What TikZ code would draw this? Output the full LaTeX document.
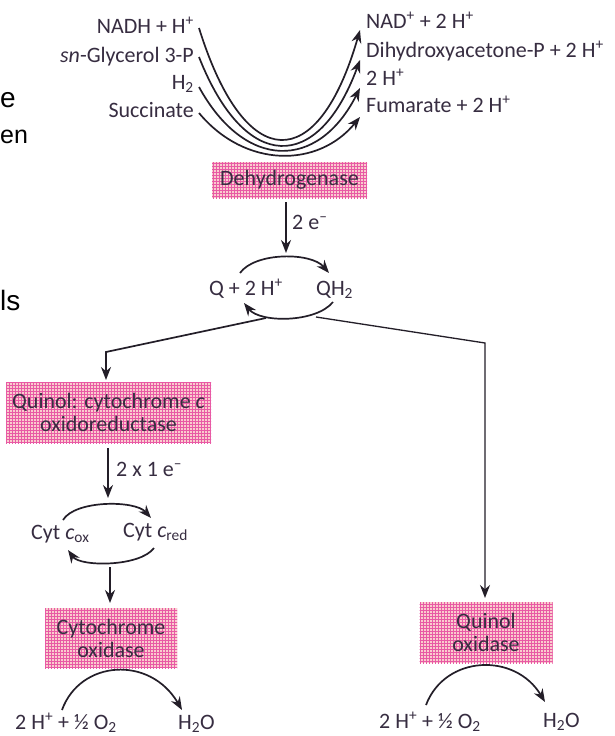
\documentclass[tikz,border=0pt]{standalone}
\usepackage{fontspec}
\setmainfont{Carlito}
\newfontfamily\arialf{Liberation Sans}
\usetikzlibrary{arrows.meta,patterns}
\definecolor{txt}{RGB}{55,45,65}
\definecolor{ink}{RGB}{35,30,40}
\definecolor{boxbg}{RGB}{250,205,205}
\definecolor{boxgrid}{RGB}{232,90,165}
\begin{document}
\begin{tikzpicture}[x=1pt,y=-1pt,
  lbl/.style={text=txt, inner sep=0pt, font=\fontsize{22}{24}\selectfont},
  enz/.style={pattern=grid, pattern color=boxgrid, preaction={fill=boxbg}, text=txt, inner sep=0pt, align=center, font=\fontsize{22}{23}\selectfont},
  arr/.style={draw=ink, line width=1.7pt, -{Stealth[length=13pt,width=10pt]}},
  frag/.style={inner sep=0pt, text=black, font=\arialf\fontsize{28}{30}\selectfont}
]
\fill[white] (0,0) rectangle (615,736);
\useasboundingbox (0,0) rectangle (615,736);

% fragments of slide text at the left edge
\node[frag, anchor=base west] (fe) at (0,107) {e};
\node[frag, anchor=base west, font=\arialf\fontsize{25}{30}\selectfont] (fen) at (0,143) {en};
\node[frag, anchor=base west] (fls) at (0,310) {ls};

% substrates
\node[lbl, anchor=base east] (nadh) at (194,33) {NADH + H\textsuperscript{+}};
\node[lbl, anchor=base east] (gly) at (194,62) {\textit{sn}-Glycerol 3-P};
\node[lbl, anchor=base east] (hh) at (194,89) {H\textsubscript{2}};
\node[lbl, anchor=base east] (succ) at (194,117) {Succinate};
% products
\node[lbl, anchor=base west] (nad) at (366,28) {NAD\textsuperscript{+} + 2 H\textsuperscript{+}};
\node[lbl, anchor=base west] (dhap) at (366,57) {Dihydroxyacetone-P + 2 H\textsuperscript{+}};
\node[lbl, anchor=base west] (hp) at (366,85) {2 H\textsuperscript{+}};
\node[lbl, anchor=base west] (fum) at (366,112) {Fumarate + 2 H\textsuperscript{+}};

\coordinate (s1) at (199,28);  \coordinate (e1) at (360,30);
\coordinate (s2) at (199,57);  \coordinate (e2) at (360,60);
\coordinate (s3) at (199,87);  \coordinate (e3) at (360,88);
\coordinate (s4) at (199,113); \coordinate (e4) at (360,117);
\draw[arr] (s1) .. controls (245,175.7) and (318,175.7) .. (e1);
\draw[arr] (s2) .. controls (245,173.8) and (318,173.8) .. (e2);
\draw[arr] (s3) .. controls (245,170.8) and (318,170.8) .. (e3);
\draw[arr] (s4) .. controls (245,168.3) and (318,168.3) .. (e4);

% enzymes
\node[enz, minimum width=155pt, minimum height=36pt] (dh) at (289.5,180) {Dehydrogenase};
\node[enz, minimum width=205pt, minimum height=61pt] (qcr) at (108.5,412.5) {Quinol: cytochrome \textit{c}\\oxidoreductase};
\node[enz, minimum width=132pt, minimum height=60pt] (cox) at (111,638) {Cytochrome\\oxidase};
\node[enz, minimum width=133pt, minimum height=61pt] (qox) at (486,632.5) {Quinol\\oxidase};

% 2 e-
\coordinate (d1) at (286,202); \coordinate (d2) at (286,253);
\draw[arr] (d1) -- (d2);
\node[lbl, anchor=base west] (twoe) at (292,229) {2 e\textsuperscript{–}};

% Q cycle
\node[lbl, anchor=base east] (q) at (283,295) {Q + 2 H\textsuperscript{+}};
\node[lbl, anchor=base west] (qh) at (316,295) {QH\textsubscript{2}};
\coordinate (qa) at (240,273); \coordinate (qb) at (329,273);
\coordinate (qc) at (333,302); \coordinate (qd) at (244,303);
\draw[arr] (qa) .. controls (255,252) and (311,252) .. (qb);
\draw[arr] (qc) .. controls (316,323) and (260,323) .. (qd);

% branches
\coordinate (bl0) at (266,318); \coordinate (bl1) at (106,352); \coordinate (bl2) at (106,380);
\draw[arr] (bl0) -- (bl1) -- (bl2);
\coordinate (br0) at (316,317); \coordinate (br1) at (485,343); \coordinate (br2) at (485,598);
\draw[arr, line width=1.3pt] (br0) -- (br1) -- (br2);

% 2 x 1 e-
\coordinate (c1) at (108,448); \coordinate (c2) at (108,498);
\draw[arr] (c1) -- (c2);
\node[lbl, anchor=base west] (twoxe) at (116,476) {2 x 1 e\textsuperscript{–}};

% cyt c cycle
\node[lbl, anchor=base west] (cox1) at (31,539) {Cyt \textit{c}\textsubscript{ox}};
\node[lbl, anchor=base west] (cred) at (123,537) {Cyt \textit{c}\textsubscript{red}};
\coordinate (ca) at (63,520); \coordinate (cb) at (151,518);
\coordinate (cc) at (154,548); \coordinate (cd) at (68,550);
\draw[arr] (ca) .. controls (75,500) and (135,500) .. (cb);
\draw[arr] (cc) .. controls (140,567) and (80,567) .. (cd);
\coordinate (f1) at (110,567); \coordinate (f2) at (110,603);
\draw[arr] (f1) -- (f2);

% oxygen reduction, left
\node[lbl, anchor=base west] (ox1) at (15,729) {2 H\textsuperscript{+} + ½ O\textsubscript{2}};
\node[lbl, anchor=base west] (w1) at (178,729) {H\textsubscript{2}O};
\coordinate (g1) at (62,710); \coordinate (g2) at (182,710);
\draw[arr] (g1) .. controls (80,660) and (150,655) .. (g2);

% oxygen reduction, right
\node[lbl, anchor=base west] (ox2) at (379,728) {2 H\textsuperscript{+} + ½ O\textsubscript{2}};
\node[lbl, anchor=base west] (w2) at (543,727) {H\textsubscript{2}O};
\coordinate (h1) at (426,705); \coordinate (h2) at (545,702);
\draw[arr] (h1) .. controls (445,655) and (515,652) .. (h2);
\end{tikzpicture}
\end{document}
